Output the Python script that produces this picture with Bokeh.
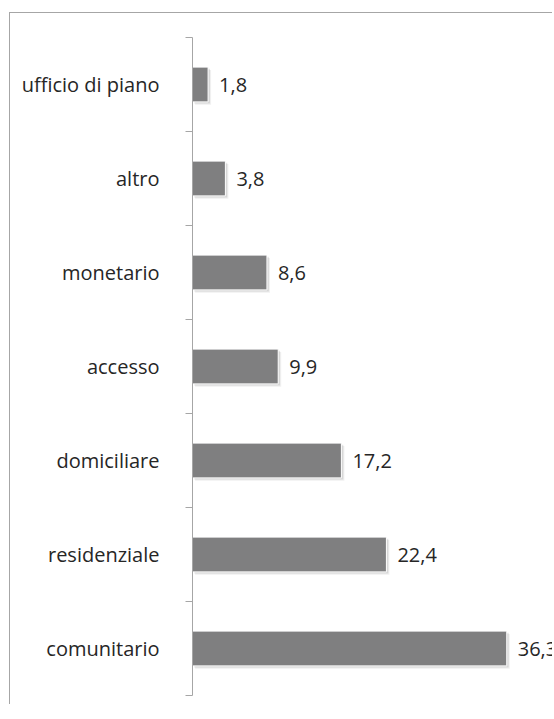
from bokeh.plotting import figure
from bokeh.models import (ColumnDataSource, Range1d, LinearAxis,
                          FixedTicker, CustomJSTickFormatter, LabelSet)
from bokeh.core.properties import value
from bokeh.transform import dodge
from bokeh.embed import file_html
from bokeh.resources import INLINE

categories = ["comunitario", "residenziale", "domiciliare", "accesso", "monetario", "altro", "ufficio di piano"]
values = [36.3, 22.4, 17.2, 9.9, 8.6, 3.8, 1.8]
value_labels = [f"{v:.1f}".replace(".", ",") for v in values]

FONT = "Open Sans"
SIZE = "20px"
AXIS_GRAY = "#a6a6a6"

n = len(categories)
ypos = [i + 0.5 for i in range(n)]
src = ColumnDataSource(dict(y=ypos, cats=categories, values=values, labels=value_labels))

p = figure(width=543, height=692,
           y_range=Range1d(0, n), x_range=Range1d(0, 41.7),
           output_backend="svg", toolbar_location=None,
           x_axis_location=None, y_axis_location=None,
           min_border_left=182, min_border_top=24, min_border_bottom=10, min_border_right=0)
p.outline_line_color = None
p.xgrid.visible = False
p.ygrid.visible = False
p.styles = {"margin-left": "9px", "margin-top": "12px",
            "border-left": "1px solid #a6a6a6", "border-top": "1px solid #a6a6a6"}

# boundary ticks axis (inner)
tick_axis = LinearAxis(ticker=FixedTicker(ticks=list(range(n + 1))),
                       formatter=CustomJSTickFormatter(code="return ''"),
                       axis_line_color=AXIS_GRAY, major_tick_line_color=AXIS_GRAY,
                       minor_tick_line_color=None, major_tick_in=0, major_tick_out=7,
                       major_label_standoff=0, major_label_text_font_size="1px")
p.add_layout(tick_axis, "left")

# category label axis (outer)
cat_axis = LinearAxis(ticker=FixedTicker(ticks=ypos),
                      major_label_overrides={y: c for y, c in zip(ypos, categories)},
                      axis_line_color=None, major_tick_line_color=None, minor_tick_line_color=None,
                      major_tick_in=0, major_tick_out=0, major_label_standoff=26,
                      major_label_text_font=FONT, major_label_text_font_size=SIZE,
                      major_label_text_color="#262626")
p.add_layout(cat_axis, "left")

# soft drop shadow
p.hbar(y=dodge("y", -0.03), left=0.3, right=dodge("values", 0.35), height=0.37, source=src,
       fill_color="#000000", fill_alpha=0.06, line_color=None)
p.hbar(y=dodge("y", -0.018), left=0.2, right=dodge("values", 0.22), height=0.37, source=src,
       fill_color="#000000", fill_alpha=0.10, line_color=None)
# bars
p.hbar(y="y", right="values", height=0.37, source=src,
       fill_color="#7f7f80", line_color="#ffffff", line_width=1)

labels = LabelSet(x="values", y="y", text="labels", source=src, x_offset=11,
                  text_baseline="middle", text_align="left",
                  text_font=value(FONT), text_font_size=value(SIZE), text_color="#262626")
p.add_layout(labels)

open("out.html", "w").write(file_html(p, INLINE))
